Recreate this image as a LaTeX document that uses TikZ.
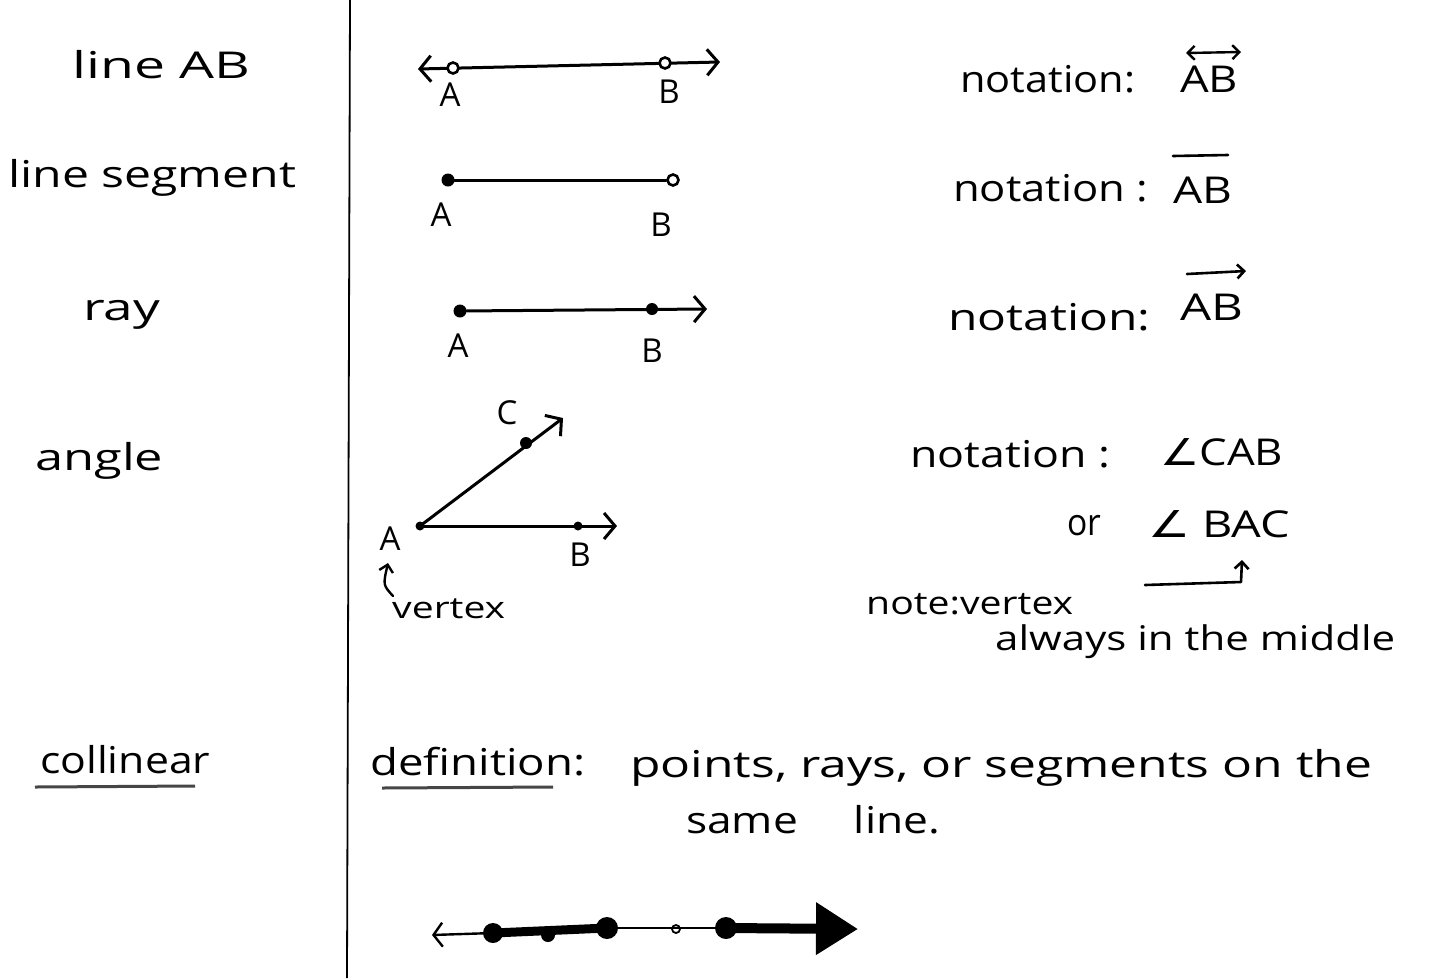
\documentclass[tikz,border=0pt]{standalone}
\usepackage{fontspec}
\usepackage{graphicx}
\setmainfont{Open Sans}
\newfontfamily\symf{DejaVu Sans}
\usetikzlibrary{arrows.meta}
\newcommand\hw[2]{\resizebox{#1pt}{\height}{#2}}
\begin{document}
\begin{tikzpicture}[x=1pt,y=-1pt,
  txt/.style={font=\fontsize{37}{42}\selectfont, inner sep=0pt, anchor=base west},
  lbl/.style={font=\fontsize{33}{36}\selectfont, inner sep=0pt, anchor=base},
  ln/.style={line width=3pt, line cap=round, line join=round},
  barb/.tip={Straight Barb[length=11pt,width=26pt]},
  sbarb/.tip={Straight Barb[length=7pt,width=14pt]},
  dotf/.style={circle, fill, inner sep=0pt, minimum size=13pt},
  doto/.style={circle, draw, line width=2.6pt, fill=white, inner sep=0pt, minimum size=11pt},
]
\useasboundingbox (0,0) rectangle (1437,978);
\fill[white] (0,0) rectangle (1437,978);

% divider
\coordinate (divT) at (350,0);
\coordinate (divB) at (347,978);
\draw[line width=1.8pt] (divT) -- (divB);

% left column terms
\node[txt] (tLine) at (72,78) {\hw{178}{line AB}};
\node[txt] (tSeg) at (8,187) {\hw{288}{line segment}};
\node[txt] (tRay) at (83,320) {\hw{77}{ray}};
\node[txt] (tAng) at (35,470) {\hw{128}{angle}};
\node[txt] (tCol) at (40,773) {\hw{170}{collinear}};
\coordinate (uc1) at (35,787);
\coordinate (uc2) at (195,786);
\draw[line width=3pt, gray!55!black] (uc1) -- (uc2);

% line AB
\coordinate (l1L) at (418,69);
\coordinate (l1R) at (720,62);
\draw[ln, barb-barb] (l1L) -- (l1R);
\node[doto] (l1A) at (453,68) {};
\node[doto] (l1B) at (665,63) {};
\node[lbl] (l1Al) at (450,106) {A};
\node[lbl] (l1Bl) at (669,103) {B};

% segment
\node[dotf] (sA) at (448,180) {};
\node[doto] (sB) at (673,180) {};
\draw[ln] (sA) -- (sB);
\node[lbl] (sAl) at (441,226) {A};
\node[lbl] (sBl) at (661,236) {B};

% ray
\node[dotf] (rA) at (460,311) {};
\node[dotf, minimum size=12pt] (rB) at (652,309) {};
\coordinate (rE) at (707,309);
\draw[ln, -barb] (rA) -- (rE);
\node[lbl] (rAl) at (458,357) {A};
\node[lbl] (rBl) at (652,362) {B};

% angle
\node[dotf, minimum size=9pt] (aA) at (420,526) {};
\node[dotf, minimum size=12pt] (aC) at (526,443) {};
\node[dotf, minimum size=9pt] (aB) at (578,526) {};
\coordinate (aCE) at (563,418);
\coordinate (aBE) at (617,526);
\draw[ln, -barb] (aA.center) -- (aCE);
\draw[ln, -barb] (aA.center) -- (aBE);
\node[lbl] (aCl) at (507,424) {C};
\node[lbl] (aAl) at (390,550) {A};
\node[lbl] (aBl) at (580,566) {B};
\coordinate (vx1) at (393,596);
\coordinate (vx2) at (388,563);
\draw[ln, line width=2.4pt, -sbarb] (vx1) .. controls (383,585) .. (vx2);
\node[txt, font=\fontsize{30}{34}\selectfont] (vtx) at (392,618) {\hw{113}{vertex}};

% notations
\node[txt] (n1) at (960,92) {\hw{175}{notation:}};
\node[txt] (n1AB) at (1180,92) {\hw{58}{AB}};
\coordinate (n1a) at (1186,53);
\coordinate (n1b) at (1241,52);
\draw[ln, line width=2.4pt, sbarb-sbarb] (n1a) -- (n1b);

\node[txt] (n2) at (953,201) {\hw{195}{notation :}};
\node[txt] (n2AB) at (1173,203) {\hw{59}{AB}};
\coordinate (n2a) at (1173,156);
\coordinate (n2b) at (1228,155);
\draw[ln, line width=2.6pt] (n2a) -- (n2b);

\node[txt] (n3) at (948,330) {\hw{202}{notation:}};
\node[txt] (n3AB) at (1180,320) {\hw{63}{AB}};
\coordinate (n3a) at (1187,274);
\coordinate (n3b) at (1246,271);
\draw[ln, line width=2.6pt, -sbarb] (n3a) -- (n3b);

\node[txt] (n4) at (910,467) {\hw{200}{notation :}};
\node[txt] (n4s) at (1160,465) {\hw{123}{{\symf ∠}CAB}};
\node[txt] (or) at (1067,535) {\hw{34}{or}};
\node[txt] (n5s) at (1148,537) {\hw{142}{{\symf ∠} BAC}};
\coordinate (na1) at (1145,585);
\coordinate (na2) at (1241,582);
\coordinate (na3) at (1242,560);
\draw[ln, line width=2.6pt, -sbarb] (na1) -- (na2) -- (na3);
\node[txt, font=\fontsize{32}{36}\selectfont] (note1) at (866,614) {\hw{207}{note:vertex}};
\node[txt, font=\fontsize{34}{38}\selectfont] (note2) at (995,650) {\hw{400}{always in the middle}};

% definition
\node[txt] (def) at (370,775) {\hw{215}{definition:}};
\coordinate (ud1) at (382,788);
\coordinate (ud2) at (553,787);
\draw[line width=3pt, gray!55!black] (ud1) -- (ud2);
\node[txt] (defa) at (630,777) {\hw{742}{points, rays, or segments on the}};
\node[txt] (defb) at (686,833) {\hw{254}{same \quad line.}};

% collinear drawing
\coordinate (cL) at (432,935);
\node[dotf, minimum size=20pt] (c1) at (493,933) {};
\node[dotf, minimum size=14pt] (c2) at (548,935) {};
\node[dotf, minimum size=22pt] (c3) at (607,928) {};
\node[doto, minimum size=8pt, line width=1.8pt] (c4) at (676,929) {};
\node[dotf, minimum size=22pt] (c5) at (726,928) {};
\coordinate (cR) at (858,929);
\draw[line width=2.4pt, -{Straight Barb[length=9pt,width=24pt]}] (c1.center) -- (cL);
\draw[line width=9pt] (c1.center) -- (c3.center);
\draw[line width=2.4pt] (c3.center) -- (c5.center);
\draw[line width=10pt, -{Triangle[length=42pt,width=50pt]}] (c5.center) -- (cR);
\end{tikzpicture}
\end{document}
